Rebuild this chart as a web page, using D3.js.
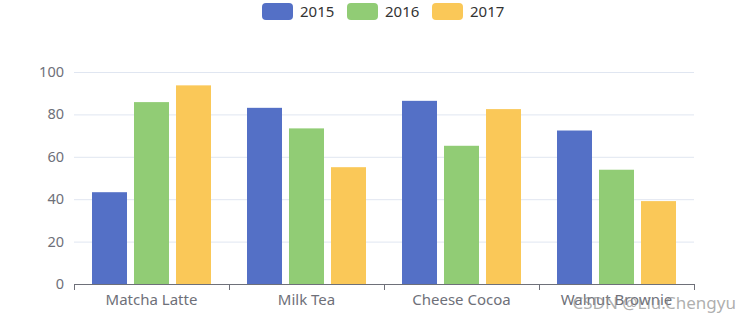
<!DOCTYPE html>
<html>
<head>
<meta charset="utf-8">
<script src="https://cdn.jsdelivr.net/npm/d3@7"></script>
<style>
  html, body { margin: 0; padding: 0; background: #fff; }
  svg { display: block; }
</style>
</head>
<body>
<svg id="chart" width="750" height="325"></svg>
<script>
// Sales by product and year
const products = ["Matcha Latte", "Milk Tea", "Cheese Cocoa", "Walnut Brownie"];
const years = ["2015", "2016", "2017"];
const values2015 = [43.3, 83.1, 86.4, 72.4];
const values2016 = [85.8, 73.4, 65.2, 53.9];
const values2017 = [93.7, 55.1, 82.5, 39.1];
const yTicks = [0, 20, 40, 60, 80, 100];
const colors = ["#5470c6", "#91cc75", "#fac858"];

const series = [values2015, values2016, values2017];
const font = "'Noto Sans', 'DejaVu Sans', sans-serif";

const svg = d3.select("#chart");
const plot = { left: 74, right: 694, top: 72, bottom: 284 };

const x = d3.scaleBand().domain(products).range([plot.left, plot.right]);
const y = d3.scaleLinear().domain([0, 100]).range([plot.bottom, plot.top]);

// Horizontal grid lines
svg.append("g")
  .selectAll("line")
  .data(yTicks.filter(d => d !== 0))
  .join("line")
  .attr("x1", plot.left).attr("x2", plot.right)
  .attr("y1", d => y(d) + 0.5).attr("y2", d => y(d) + 0.5)
  .attr("stroke", "#e0e6f1");

// Y-axis labels
svg.append("g")
  .selectAll("text")
  .data(yTicks)
  .join("text")
  .attr("x", plot.left - 10)
  .attr("y", d => y(d))
  .attr("dy", "0.35em")
  .attr("text-anchor", "end")
  .attr("fill", "#6e7079")
  .style("font", `14.5px ${font}`)
  .text(d => d);

// Bars: three per product, fixed width with a small gap between them
const barW = 35, barGap = 7;
const groupW = years.length * barW + (years.length - 1) * barGap;
years.forEach((yr, si) => {
  svg.append("g")
    .selectAll("rect")
    .data(products.map((p, i) => ({ p, v: series[si][i] })))
    .join("rect")
    .attr("x", d => x(d.p) + (x.bandwidth() - groupW) / 2 + si * (barW + barGap))
    .attr("width", barW)
    .attr("y", d => y(d.v))
    .attr("height", d => y(0) - y(d.v))
    .attr("fill", colors[si]);
});

// X axis
const xAxis = svg.append("g");
xAxis.append("line")
  .attr("x1", plot.left).attr("x2", plot.right)
  .attr("y1", plot.bottom + 0.5).attr("y2", plot.bottom + 0.5)
  .attr("stroke", "#6e7079");
const tickPos = products.map(p => x(p)).concat([plot.right]);
xAxis.selectAll("line.tick")
  .data(tickPos)
  .join("line")
  .attr("class", "tick")
  .attr("x1", d => Math.round(d) + 0.5).attr("x2", d => Math.round(d) + 0.5)
  .attr("y1", plot.bottom).attr("y2", plot.bottom + 6)
  .attr("stroke", "#6e7079");
xAxis.selectAll("text")
  .data(products)
  .join("text")
  .attr("x", d => x(d) + x.bandwidth() / 2)
  .attr("y", plot.bottom + 21)
  .attr("text-anchor", "middle")
  .attr("fill", "#6e7079")
  .style("font", `15px ${font}`)
  .text(d => d);

// Legend
const legendX = [262, 347, 432];
const legend = svg.append("g");
years.forEach((yr, i) => {
  legend.append("rect")
    .attr("x", legendX[i]).attr("y", 3)
    .attr("width", 31).attr("height", 17)
    .attr("rx", 4).attr("ry", 4)
    .attr("fill", colors[i]);
  legend.append("text")
    .attr("x", legendX[i] + 38).attr("y", 12)
    .attr("dy", "0.35em")
    .attr("fill", "#333")
    .style("font", `15px ${font}`)
    .text(yr);
});

// Watermark
svg.append("text")
  .attr("x", 736).attr("y", 309)
  .attr("text-anchor", "end")
  .attr("fill", "rgba(140,140,140,0.7)")
  .style("font", `17px ${font}`)
  .text("CSDN @Liu.Chengyu");
</script>
</body>
</html>
